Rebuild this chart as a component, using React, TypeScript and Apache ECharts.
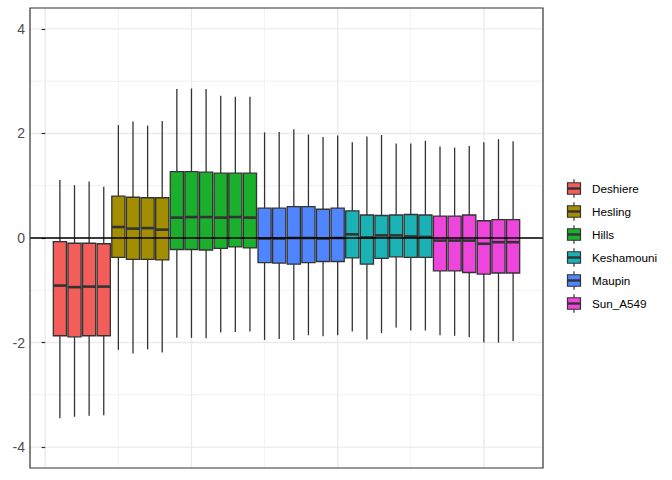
import React, { useEffect, useRef } from "react";
import * as echarts from "echarts";

const groupNames = ["Deshiere", "Hesling", "Hills", "Keshamouni", "Maupin", "Sun_A549"];
const groupColors = ["#F35E5A", "#A38D00", "#1BAF2E", "#1AB2B4", "#4F86FF", "#EE45DC"];

// sample position along x and its group (index into groupNames)
const sampleX = [1, 2, 3, 4, 5, 6, 7, 8, 9, 10, 11, 12, 13, 14, 15, 16, 17, 18, 19, 20, 21, 22, 23, 24, 25, 26, 27, 28, 29, 30, 31, 32];
const sampleGroup = [0, 0, 0, 0, 1, 1, 1, 1, 2, 2, 2, 2, 2, 2, 4, 4, 4, 4, 4, 4, 3, 3, 3, 3, 3, 3, 5, 5, 5, 5, 5, 5];

const whiskerLow = [-3.45, -3.42, -3.4, -3.39, -2.14, -2.21, -2.13, -2.19, -1.91, -1.91, -1.92, -1.81, -1.8, -1.79, -1.95, -1.93, -1.95, -1.86, -1.88, -1.86, -1.79, -1.94, -1.82, -1.71, -1.77, -1.77, -1.86, -1.87, -1.9, -2.0, -2.0, -1.97];
const lowerQ = [-1.87, -1.89, -1.87, -1.87, -0.37, -0.41, -0.41, -0.42, -0.22, -0.22, -0.23, -0.2, -0.17, -0.19, -0.47, -0.48, -0.5, -0.47, -0.45, -0.45, -0.38, -0.5, -0.39, -0.36, -0.37, -0.37, -0.63, -0.63, -0.66, -0.69, -0.67, -0.67];
const medians = [-0.91, -0.94, -0.93, -0.93, 0.21, 0.18, 0.19, 0.16, 0.39, 0.4, 0.4, 0.39, 0.4, 0.39, -0.01, -0.01, 0.0, 0.0, -0.01, 0.0, 0.07, 0.01, 0.05, 0.05, 0.03, 0.02, -0.05, -0.05, -0.05, -0.11, -0.08, -0.08];
const upperQ = [-0.07, -0.1, -0.1, -0.11, 0.8, 0.78, 0.77, 0.77, 1.27, 1.27, 1.26, 1.24, 1.24, 1.24, 0.57, 0.57, 0.6, 0.6, 0.55, 0.57, 0.52, 0.44, 0.43, 0.44, 0.45, 0.44, 0.42, 0.42, 0.44, 0.33, 0.35, 0.35];
const whiskerHigh = [1.11, 1.01, 1.08, 0.98, 2.16, 2.23, 2.15, 2.24, 2.85, 2.86, 2.85, 2.72, 2.7, 2.7, 2.02, 2.03, 2.08, 1.98, 1.93, 1.96, 1.83, 1.94, 1.97, 1.81, 1.81, 1.86, 1.75, 1.73, 1.76, 1.83, 1.89, 1.85];

const yTickValues = [-4, -2, 0, 2, 4];
const yMinorGrid = [-3, -1, 1, 3];
const xMajorGrid = [0, 10, 20, 30];
const xMinorGrid = [5, 15, 25];
const refLineValues = [0];

const X_MIN = -1.045;
const X_MAX = 34.045;
const Y_MIN = -4.4;
const Y_MAX = 4.4;
const BOX_WIDTH = 0.9;
const LINE = "#333333";
const FONT = "'Liberation Sans', Arial, Helvetica, sans-serif";

export default function App() {
  const ref = useRef<HTMLDivElement>(null);

  useEffect(() => {
    if (!ref.current) return;
    const chart = echarts.init(ref.current, undefined, { renderer: "svg" });

    const boxData = sampleX.map((x, i) => [x, whiskerLow[i], lowerQ[i], medians[i], upperQ[i], whiskerHigh[i], sampleGroup[i]]);

    const hLineSeries = (data: number[], width: number, color: string, z: number) => ({
      type: "custom",
      silent: true,
      z,
      data: data.map((v) => [0, v]),
      renderItem: (params: any, api: any) => {
        const cs = params.coordSys;
        const y = api.coord([0, api.value(1)])[1];
        return {
          type: "line",
          shape: { x1: cs.x, y1: y, x2: cs.x + cs.width, y2: y },
          style: { stroke: color, lineWidth: width },
        };
      },
    });

    const vLineSeries = (data: number[], width: number, color: string, z: number) => ({
      type: "custom",
      silent: true,
      z,
      data: data.map((v) => [v, 0]),
      renderItem: (params: any, api: any) => {
        const cs = params.coordSys;
        const x = api.coord([api.value(0), 0])[0];
        return {
          type: "line",
          shape: { x1: x, y1: cs.y, x2: x, y2: cs.y + cs.height },
          style: { stroke: color, lineWidth: width },
        };
      },
    });

    const legendChildren: any[] = [];
    groupNames.forEach((name, i) => {
      const cy = 188.5 + 23 * i;
      const cx = 574;
      legendChildren.push(
        { type: "line", shape: { x1: cx, y1: cy - 9.2, x2: cx, y2: cy + 9.2 }, style: { stroke: LINE, lineWidth: 1.2 } },
        { type: "rect", shape: { x: cx - 6.5, y: cy - 5.75, width: 13, height: 11.5 }, style: { fill: groupColors[i], stroke: LINE, lineWidth: 1.2 } },
        { type: "line", shape: { x1: cx - 6.5, y1: cy, x2: cx + 6.5, y2: cy }, style: { stroke: LINE, lineWidth: 2.4 } },
        { type: "text", x: 592, y: cy, style: { text: name, fill: "#000000", fontSize: 11.7, fontFamily: FONT, verticalAlign: "middle", align: "left" } }
      );
    });

    chart.setOption({
      animation: false,
      grid: { left: 30, right: 129, top: 8, bottom: 12, containLabel: false },
      xAxis: {
        type: "value",
        min: X_MIN,
        max: X_MAX,
        axisLine: { show: false },
        axisTick: { show: false },
        axisLabel: { show: false },
        splitLine: { show: false },
      },
      yAxis: {
        type: "value",
        min: Y_MIN,
        max: Y_MAX,
        axisLine: { show: false },
        axisTick: { show: true, customValues: yTickValues, length: 3.7, lineStyle: { color: LINE, width: 1.2 } },
        axisLabel: { show: true, customValues: yTickValues, color: "#4D4D4D", fontSize: 14, fontFamily: FONT, margin: 5 },
        splitLine: { show: false },
      },
      series: [
        hLineSeries(yMinorGrid, 0.7, "#EBEBEB", 0),
        vLineSeries(xMinorGrid, 0.7, "#EBEBEB", 0),
        hLineSeries(yTickValues, 1.4, "#EBEBEB", 0),
        vLineSeries(xMajorGrid, 1.4, "#EBEBEB", 0),
        {
          type: "custom",
          z: 2,
          silent: true,
          data: boxData,
          encode: { x: 0, y: [1, 2, 3, 4, 5] },
          renderItem: (params: any, api: any) => {
            const x = api.value(0);
            const gi = api.value(6);
            const half = api.size([BOX_WIDTH, 0])[0] / 2;
            const pWl = api.coord([x, api.value(1)]);
            const pQ1 = api.coord([x, api.value(2)]);
            const pMed = api.coord([x, api.value(3)]);
            const pQ3 = api.coord([x, api.value(4)]);
            const pWh = api.coord([x, api.value(5)]);
            return {
              type: "group",
              children: [
                { type: "line", shape: { x1: pWh[0], y1: pWh[1], x2: pQ3[0], y2: pQ3[1] }, style: { stroke: LINE, lineWidth: 1.3 } },
                { type: "line", shape: { x1: pQ1[0], y1: pQ1[1], x2: pWl[0], y2: pWl[1] }, style: { stroke: LINE, lineWidth: 1.3 } },
                {
                  type: "rect",
                  shape: { x: pQ3[0] - half, y: pQ3[1], width: 2 * half, height: pQ1[1] - pQ3[1] },
                  style: { fill: groupColors[gi], stroke: LINE, lineWidth: 1.3 },
                },
                { type: "line", shape: { x1: pMed[0] - half, y1: pMed[1], x2: pMed[0] + half, y2: pMed[1] }, style: { stroke: LINE, lineWidth: 2.6 } },
              ],
            };
          },
        },
        {
          type: "custom",
          z: 3,
          silent: true,
          data: refLineValues.map((v) => [0, v]),
          renderItem: (params: any, api: any) => {
            const cs = params.coordSys;
            const y = api.coord([0, api.value(1)])[1];
            return {
              type: "line",
              shape: { x1: cs.x, y1: y, x2: cs.x + cs.width, y2: y },
              style: { stroke: "#000000", lineWidth: 1.4 },
            };
          },
        },
      ],
      graphic: [
        {
          type: "rect",
          z: 100,
          silent: true,
          shape: { x: 30, y: 8, width: 513, height: 460 },
          style: { fill: "none", stroke: LINE, lineWidth: 1.2 },
        },
        { type: "group", children: legendChildren },
      ],
    });

    return () => chart.dispose();
  }, []);

  return <div ref={ref} style={{ position: "fixed", left: 0, top: 0, width: 672, height: 480, background: "#ffffff" }} />;
}
